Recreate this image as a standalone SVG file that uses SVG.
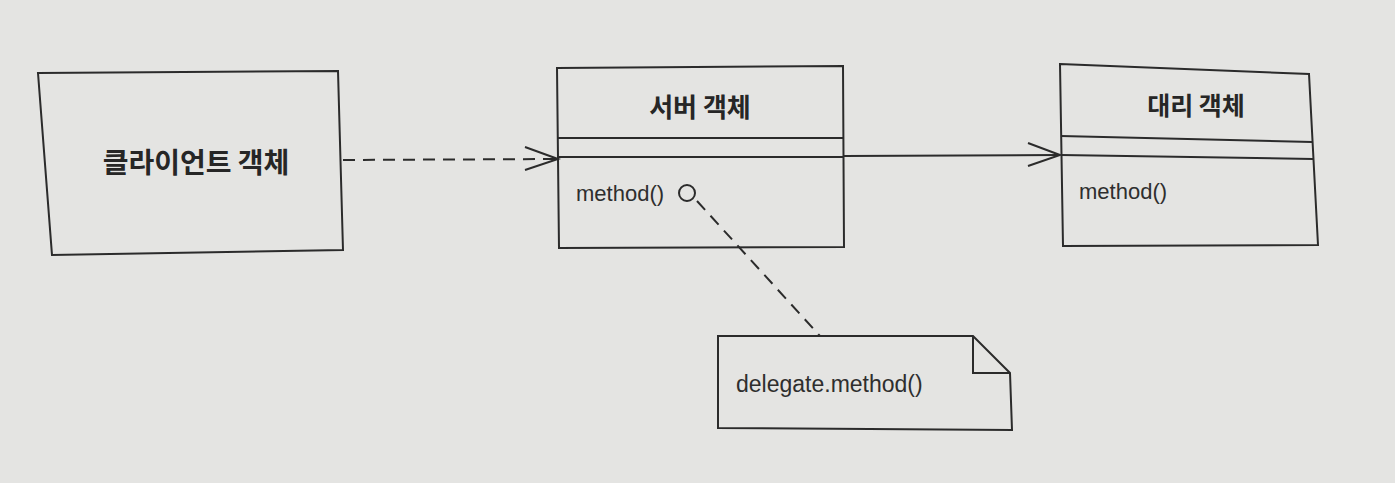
<svg xmlns="http://www.w3.org/2000/svg" width="1395" height="483" viewBox="0 0 1395 483">
<style>
.box{fill:none;stroke:#2b2b2b;stroke-width:2;stroke-linejoin:miter}
.ln{fill:none;stroke:#2b2b2b;stroke-width:2}
.dash{stroke-dasharray:12,8}
.ko{font-family:"Noto Sans CJK KR","Noto Sans",sans-serif;font-weight:bold;fill:#262626}
.lt{font-family:"Liberation Sans",Arial,sans-serif;font-size:22px;fill:#2e2e2e}
.lt23{font-size:23px}
</style>
<rect x="0" y="0" width="1395" height="483" fill="#e4e4e2"/>
<g id="client">
<polygon class="box" points="38,73 338,71 343,250 52,255"/>
<text class="ko" x="196" y="173" font-size="28" text-anchor="middle">클라이언트 객체</text>
</g>
<g id="server">
<polygon class="box" points="557,68 843,66 844,247 559,248"/>
<line class="ln" x1="558" y1="138" x2="844" y2="138"/>
<line class="ln" x1="558" y1="157" x2="844" y2="157"/>
<text class="ko" x="700" y="117" font-size="26" text-anchor="middle">서버 객체</text>
<text class="lt" x="576" y="201">method()</text>
<circle cx="687" cy="193" r="8" fill="none" stroke="#2b2b2b" stroke-width="2"/>
</g>
<g id="proxy">
<polygon class="box" points="1060,64 1309,74 1318,245 1063,246"/>
<line class="ln" x1="1061" y1="136" x2="1312" y2="142"/>
<line class="ln" x1="1061" y1="155" x2="1313" y2="159"/>
<text class="ko" x="1196" y="115" font-size="25" text-anchor="middle">대리 객체</text>
<text class="lt" x="1079" y="199">method()</text>
</g>
<g id="note">
<path class="box" d="M718,336 L973,336 L1010,373 L1012,430 L718,428 Z"/>
<path class="ln" d="M973,336 L973,373 L1010,373"/>
<text class="lt lt23" x="736" y="392">delegate.method()</text>
</g>
<g id="connectors">
<line class="ln dash" x1="343" y1="160" x2="556" y2="159"/>
<path class="ln" d="M525,147 L558,159 L525,170"/>
<line class="ln" x1="844" y1="156" x2="1059" y2="155"/>
<path class="ln" d="M1028,143 L1060,155 L1028,166"/>
<line class="ln dash" x1="697" y1="201" x2="820" y2="336"/>
</g>
</svg>
